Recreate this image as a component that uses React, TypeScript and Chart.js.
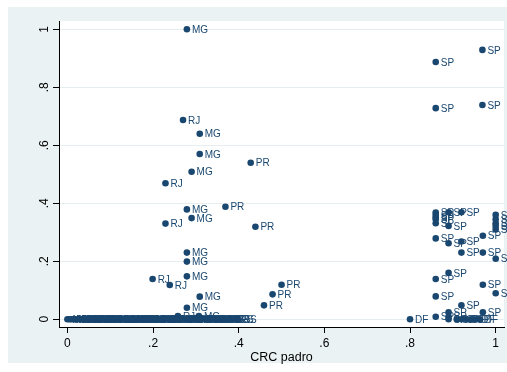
import React, { useEffect, useRef } from "react";
import { Chart, registerables } from "chart.js";

Chart.register(...registerables);

const FONT = 'Arial, "Liberation Sans", Helvetica, sans-serif';
const NAVY = "#1a476f";
const OUTER_BG = "#eaf2f3";
const GRID = "#e6eef1";

const xTicks = [0, 0.2, 0.4, 0.6, 0.8, 1];
const xTickLabels = ["0", ".2", ".4", ".6", ".8", "1"];
const yTicks = [0, 0.2, 0.4, 0.6, 0.8, 1];
const yTickLabels = ["0", ".2", ".4", ".6", ".8", "1"];
const xTitle = "CRC padro";

// Scattered (non-zero) observations
const pointX = [
  0.279, 0.969, 0.86, 0.86, 0.969, 0.27, 0.309, 0.309, 0.428, 0.29, 0.229,
  0.279, 0.369, 0.29, 0.229, 0.439, 0.279, 0.279, 0.279, 0.199, 0.239, 0.309,
  0.279, 0.258, 0.307, 0.5, 0.479, 0.459, 0.8,
  0.86, 0.86, 0.86, 0.86, 0.86, 0.86, 0.86, 0.86, 0.86,
  0.89, 0.89, 0.89, 0.89, 0.89, 0.89, 0.89,
  0.92, 0.92, 0.92, 0.92,
  0.97, 0.97, 0.97, 0.97,
  1.0, 1.0, 1.0, 1.0, 1.0, 1.0, 1.0,
  0.909, 0.92, 0.932, 0.944, 0.955, 0.963,
];
const pointY = [
  1.0, 0.929, 0.887, 0.728, 0.739, 0.687, 0.64, 0.57, 0.54, 0.509, 0.469,
  0.379, 0.388, 0.349, 0.33, 0.319, 0.23, 0.199, 0.148, 0.139, 0.118, 0.078,
  0.04, 0.011, 0.011, 0.119, 0.086, 0.048, 0.0,
  0.368, 0.36, 0.352, 0.345, 0.331, 0.279, 0.139, 0.079, 0.009,
  0.369, 0.322, 0.262, 0.16, 0.024, 0.009, 0.0,
  0.369, 0.268, 0.23, 0.048,
  0.288, 0.23, 0.119, 0.024,
  0.36, 0.345, 0.331, 0.322, 0.31, 0.209, 0.09,
  0.0, 0.0, 0.0, 0.0, 0.0, 0.0,
];
const pointState = [
  "MG", "SP", "SP", "SP", "SP", "RJ", "MG", "MG", "PR", "MG", "RJ",
  "MG", "PR", "MG", "RJ", "PR", "MG", "MG", "MG", "RJ", "RJ", "MG",
  "MG", "RJ", "MG", "PR", "PR", "PR", "DF",
  "SP", "SP", "SP", "SP", "SP", "SP", "SP", "SP", "SP",
  "SP", "SP", "SP", "SP", "SP", "SP", "SP",
  "SP", "SP", "SP", "SP",
  "SP", "SP", "SP", "SP",
  "SP", "SP", "SP", "SP", "SP", "SP", "SP",
  "SP", "SP", "DF", "SP", "DF", "DF",
];

// Dense band of observations at zero
const zeroX = [
  0.0, 0.005, 0.009, 0.014, 0.02, 0.025, 0.031, 0.036, 0.04, 0.046,
  0.052, 0.057, 0.061, 0.067, 0.073, 0.078, 0.083, 0.088, 0.094, 0.099,
  0.105, 0.111, 0.116, 0.12, 0.126, 0.132, 0.137, 0.143, 0.148, 0.152,
  0.158, 0.164, 0.169, 0.175, 0.18, 0.186, 0.191, 0.197, 0.203, 0.208,
  0.213, 0.219, 0.225, 0.23, 0.236, 0.241, 0.247, 0.252, 0.262, 0.268,
  0.274, 0.283, 0.289, 0.295, 0.3, 0.312, 0.318, 0.323, 0.329, 0.335,
  0.341, 0.346, 0.352, 0.358, 0.364, 0.37, 0.376, 0.383, 0.391, 0.398,
];
const zeroState = [
  "MG", "AM", "MG", "MG", "BA", "MG", "SC", "MG", "RS", "MG",
  "GO", "MG", "PR", "MG", "SC", "MG", "BA", "RS", "MG", "MG",
  "SC", "MG", "GO", "RS", "MG", "BA", "MG", "SC", "MG", "RS",
  "MG", "PR", "MG", "BA", "MG", "RS", "SC", "MG", "GO", "MG",
  "RS", "MG", "SC", "MG", "BA", "MG", "RS", "MG", "MG", "SC",
  "RS", "MG", "GO", "RS", "MG", "SC", "RS", "MG", "BA", "RS",
  "SC", "RS", "MG", "RS", "SC", "RS", "GO", "RS", "RS", "RS",
];

const allX = [...zeroX, ...pointX];
const allY = [...zeroX.map(() => 0), ...pointY];
const allLabels = [...zeroState, ...pointState];

const decorPlugin = {
  id: "stataDecor",
  beforeDraw(chart: any) {
    const { ctx, chartArea: a } = chart;
    ctx.save();
    ctx.fillStyle = "#ffffff";
    ctx.fillRect(0, 0, chart.width, chart.height);
    ctx.fillStyle = OUTER_BG;
    ctx.fillRect(8, 7, chart.width - 8, 356);
    ctx.fillStyle = "#ffffff";
    ctx.fillRect(a.left, a.top, a.right - a.left, a.bottom - a.top);
    ctx.restore();
  },
  afterDatasetsDraw(chart: any) {
    const { ctx } = chart;
    const meta = chart.getDatasetMeta(0);
    ctx.save();
    ctx.font = `10px ${FONT}`;
    ctx.fillStyle = NAVY;
    ctx.textAlign = "left";
    ctx.textBaseline = "alphabetic";
    meta.data.forEach((el: any, i: number) => {
      ctx.fillText(allLabels[i], el.x + 5, el.y + 3.7);
    });
    ctx.restore();
  },
  afterDraw(chart: any) {
    const { ctx, chartArea: a } = chart;
    const xs = chart.scales.x;
    const ys = chart.scales.y;
    ctx.save();
    ctx.fillStyle = "#000";
    ctx.font = `12px ${FONT}`;
    ctx.textAlign = "center";
    ctx.textBaseline = "alphabetic";
    xTicks.forEach((v, i) => {
      ctx.fillText(xTickLabels[i], xs.getPixelForValue(v), a.bottom + 19.5);
    });
    yTicks.forEach((v, i) => {
      ctx.save();
      ctx.translate(a.left - 11, ys.getPixelForValue(v));
      ctx.rotate(-Math.PI / 2);
      ctx.fillText(yTickLabels[i], 0, 0);
      ctx.restore();
    });
    ctx.font = `12.5px ${FONT}`;
    ctx.fillText(xTitle, (a.left + a.right) / 2, a.bottom + 33.5);
    ctx.restore();
  },
};

export default function App() {
  const ref = useRef<HTMLCanvasElement | null>(null);

  useEffect(() => {
    if (!ref.current) return;
    const chart = new Chart(ref.current, {
      type: "scatter",
      data: {
        datasets: [
          {
            data: allX.map((x, i) => ({ x, y: allY[i] })),
            backgroundColor: NAVY,
            borderColor: NAVY,
            borderWidth: 0,
            pointRadius: 3.3,
            pointHoverRadius: 3.3,
          },
        ],
      },
      options: {
        animation: false,
        responsive: false,
        events: [],
        layout: {
          padding: { left: 0, top: 21, right: 3, bottom: 0 },
          autoPadding: false,
        },
        plugins: {
          legend: { display: false },
          tooltip: { enabled: false },
          title: { display: false },
        },
        scales: {
          x: {
            type: "linear",
            min: -0.0196,
            max: 1.0194,
            afterBuildTicks: (s: any) => {
              s.ticks = xTicks.map((v) => ({ value: v }));
            },
            afterFit: (s: any) => {
              s.height = 45;
            },
            ticks: { display: false },
            grid: {
              drawOnChartArea: false,
              drawTicks: true,
              tickLength: 6,
              tickColor: "#000",
              tickWidth: 1,
            },
            border: { display: true, color: "#000", width: 1 },
          },
          y: {
            type: "linear",
            min: -0.0266,
            max: 1.0286,
            afterBuildTicks: (s: any) => {
              s.ticks = yTicks.map((v) => ({ value: v }));
            },
            afterFit: (s: any) => {
              s.width = 59;
            },
            ticks: { display: false },
            grid: {
              color: GRID,
              lineWidth: 1,
              drawTicks: true,
              tickLength: 6,
              tickColor: "#000",
              tickWidth: 1,
            },
            border: { display: true, color: "#000", width: 1 },
          },
        },
      },
      plugins: [decorPlugin],
    });
    return () => chart.destroy();
  }, []);

  return (
    <div style={{ position: "fixed", left: 0, top: 0, width: 507, height: 372 }}>
      <canvas ref={ref} width={507} height={372} style={{ width: 507, height: 372, display: "block" }} />
    </div>
  );
}
